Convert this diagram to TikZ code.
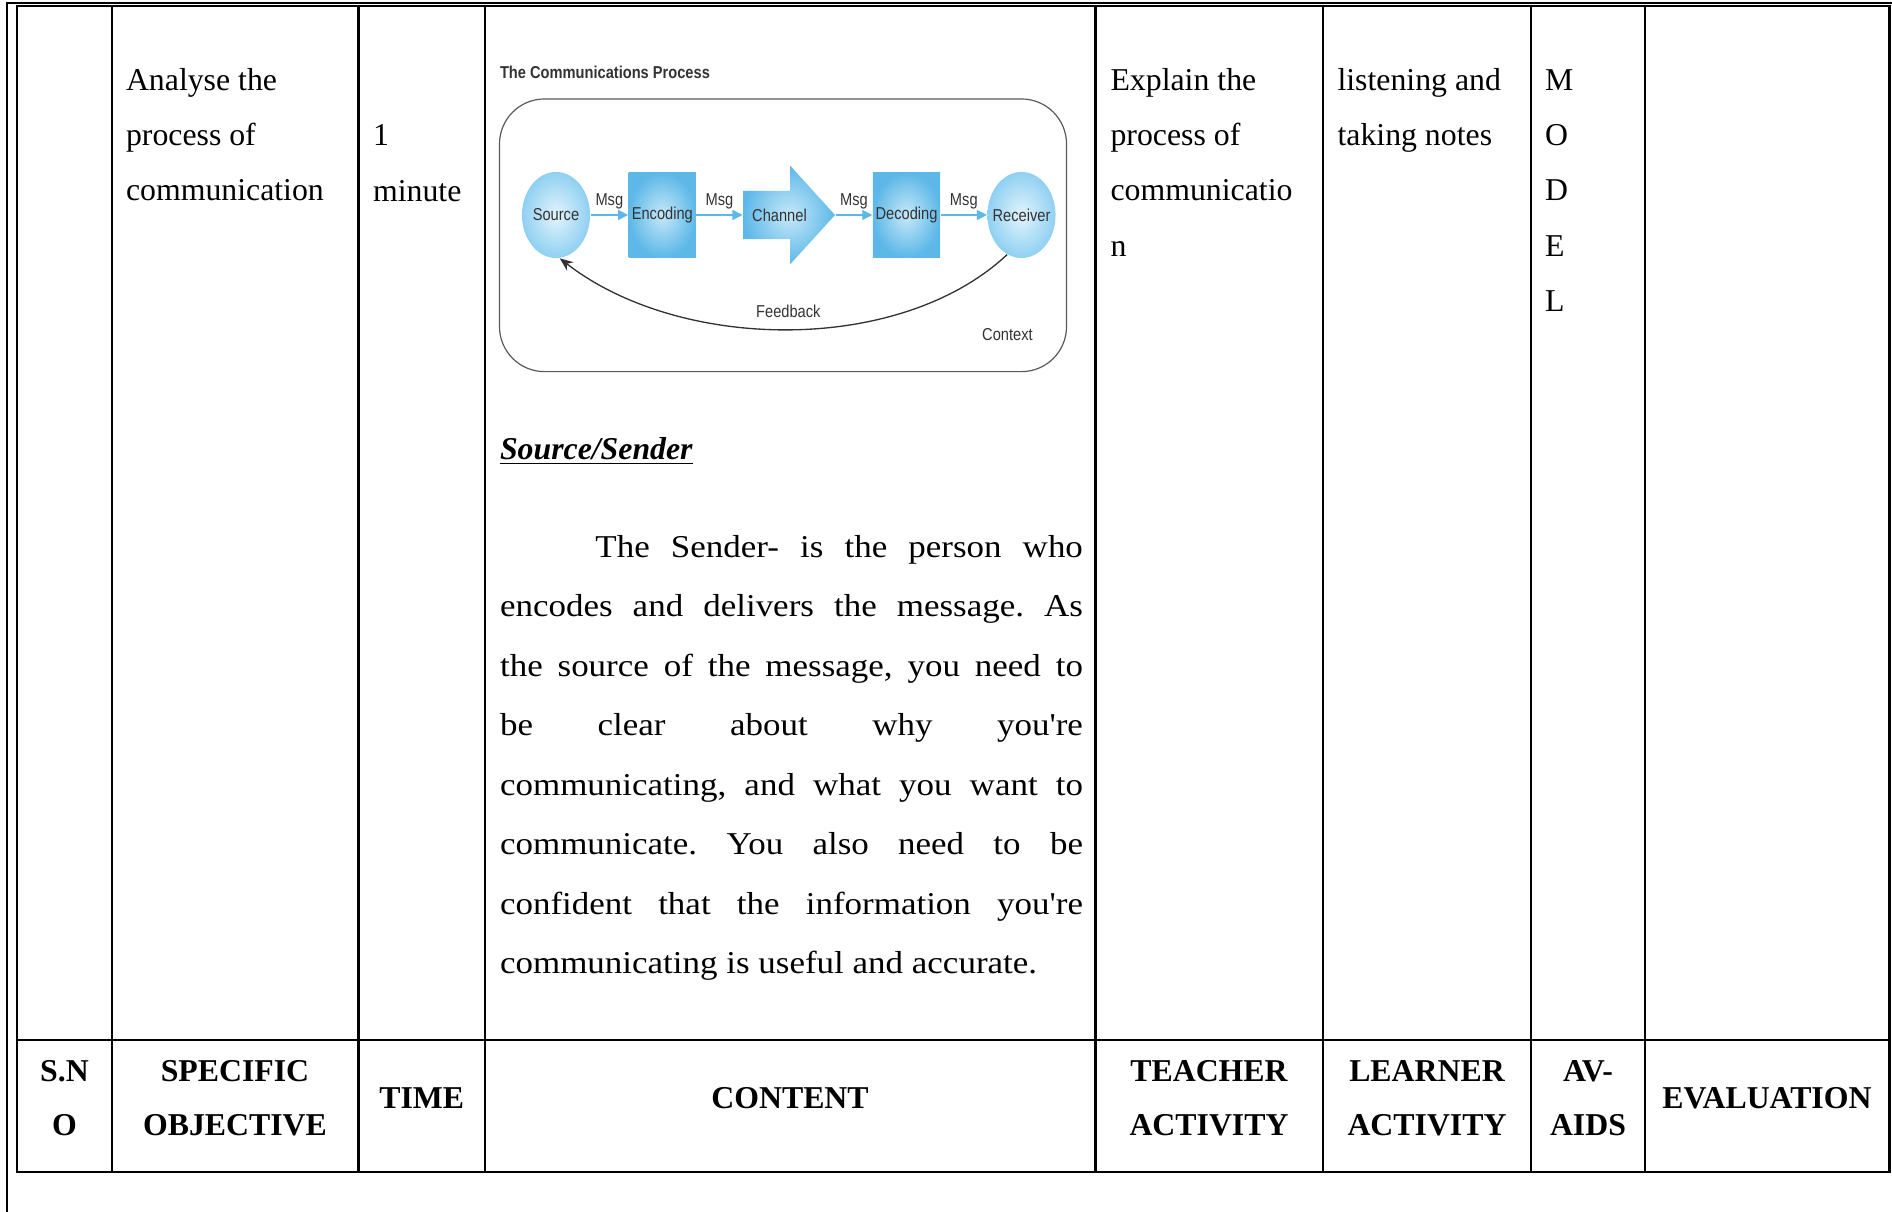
\documentclass[tikz,border=0pt]{standalone}
\usepackage{fontspec}
\setmainfont{Liberation Serif}
\newfontfamily\parafont[FakeStretch=1.1]{Liberation Serif}
\newfontfamily\diagfont[FakeStretch=0.85]{Liberation Sans}
\usetikzlibrary{shapes.geometric,arrows.meta,positioning}
\newcommand{\nowidth}[1]{\makebox[0pt]{#1}}
\definecolor{msgblue}{HTML}{5BB8E9}
\definecolor{boxedge}{HTML}{5DB8E8}
\definecolor{boxmid}{HTML}{C6E8F9}
\definecolor{ovaledge}{HTML}{8FD0F2}
\definecolor{ovalmid}{HTML}{E3F4FC}
\definecolor{diaggray}{HTML}{333333}

\begin{document}
\begin{tikzpicture}[x=0.3774pt, y=-0.3774pt,
  rule/.style={line width=0.8pt},
  cell/.style={anchor=base west, inner sep=0pt, font=\fontsize{12}{14}\selectfont},
  head/.style={anchor=base, inner sep=0pt, font=\fontsize{12}{14}\selectfont\bfseries},
  dtext/.style={font=\diagfont\fontsize{6.5}{7}\selectfont, text=diaggray, inner sep=1pt},
  oval/.style={ellipse, minimum width=25.7pt, minimum height=32.5pt, inner color=ovalmid, outer color=ovaledge, dtext, inner sep=0pt},
  blockbox/.style={rectangle, minimum width=25.4pt, minimum height=31.9pt, inner color=boxmid, outer color=boxedge, dtext, inner sep=0pt},
  msg/.style={msgblue, line width=0.45pt, -{Triangle[length=3.8pt, width=3.8pt]}},
  msglabel/.style={dtext, above=1pt}]

\useasboundingbox (0,0) rectangle (1892,1212);

% page frame and table rules
\draw[rule] (7,1220) -- (7,3) -- (1900,3);
\draw[rule] (17,6) rectangle (1889.5,1172);
\draw[rule] (17,1040) -- (1889.5,1040);
\foreach \x in {112,358.5,485,1095.5,1323,1531,1645}
  \draw[rule] (\x,6) -- (\x,1172);

% lesson row
\foreach \t [count=\i] in {Analyse the, process of, communication}
  \node[cell] (obj\i) at (125.5,{35.3+55.2*\i}) {\t};
\node[cell] (time1) at (372.5,146) {1};
\node[cell] (time2) at (372.5,201.5) {minute};
\foreach \t [count=\i] in {Explain the, process of, communicatio, n}
  \node[cell] (teach\i) at (1110,{35.3+55.2*\i}) {\t};
\foreach \t [count=\i] in {listening and, taking notes}
  \node[cell] (learn\i) at (1337,{35.3+55.2*\i}) {\t};
\foreach \t [count=\i] in {M,O,D,E,L}
  \node[cell] (aid\i) at (1544.5,{35.3+55.2*\i}) {\t};

% communications process
\node[dtext, font=\diagfont\bfseries\fontsize{6.5}{7}\selectfont, anchor=west, inner sep=0pt] (title) at (499.5,72.4) {The Communications Process};
\node[draw=black!65, line width=0.45pt, rounded corners=17pt, minimum width=214pt, minimum height=102.9pt] (context) at (783,235.3) {};
\node[oval] (source) at (556,215) {\nowidth{Source}};
\node[blockbox] (encoding) at (662.3,215) {\nowidth{Encoding}};
\node[minimum width=34.7pt, minimum height=37.4pt, inner sep=0pt] (channel) at (789,215) {};
\shade[inner color=boxmid, outer color=boxedge] (743,190.8) -- (790,190.8) -- (790,165.5) -- (835,215) -- (790,264.5) -- (790,239.2) -- (743,239.2) -- cycle;
\node[dtext] (chanlabel) at (779.5,215) {Channel};
\node[blockbox] (decoding) at (906.5,215) {\nowidth{Decoding}};
\node[oval] (receiver) at (1021.5,215) {\nowidth{Receiver}};
\foreach \a/\b in {source/encoding, encoding/channel, channel/decoding, decoding/receiver}
  \draw[msg] (\a) -- node[msglabel] {Msg} (\b);
\draw[diaggray, line width=0.5pt, -{Stealth[length=5pt, width=4pt]}] (receiver.-110) .. controls (900,355) and (680,352) .. (source.-85) node[dtext, pos=.5, above=3pt] (fb) {Feedback};
\node[dtext] (ctxlabel) at (1007.4,335) {Context};

% content text
\node[cell, font=\fontsize{12}{14}\selectfont\bfseries\itshape] (srchead) at (499.5,459.7) {\underline{Source/Sender}};
\node[anchor=base west, inner sep=0pt, text width=220pt, align=justify, font=\parafont\fontsize{12}{22.45}\selectfont\frenchspacing] (para) at (499.5,557.4)
  {\hspace*{36pt}The Sender- is the person who\linebreak
  encodes and delivers the message. As\linebreak
  the source of the message, you need to\linebreak
  be clear about why you're\linebreak
  communicating, and what you want to\linebreak
  communicate. You also need to be\linebreak
  confident that the information you're\linebreak
  communicating is useful and accurate.};

% header row
\node[head] (sno1) at (64.5,1081) {S.N};
\node[head] (sno2) at (64.5,1135.5) {O};
\node[head] (spec1) at (235,1081) {SPECIFIC};
\node[head] (spec2) at (235,1135.5) {OBJECTIVE};
\node[head] (time) at (421.75,1108) {TIME};
\node[head] (content) at (790,1108) {CONTENT};
\node[head] (tch1) at (1209,1081) {TEACHER};
\node[head] (tch2) at (1209,1135.5) {ACTIVITY};
\node[head] (lrn1) at (1427,1081) {LEARNER};
\node[head] (lrn2) at (1427,1135.5) {ACTIVITY};
\node[head] (av1) at (1588,1081) {AV-};
\node[head] (av2) at (1588,1135.5) {AIDS};
\node[head] (eval) at (1767,1108) {EVALUATION};

\end{tikzpicture}
\end{document}
